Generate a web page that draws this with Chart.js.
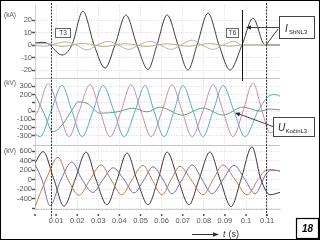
<!DOCTYPE html>
<html>
<head>
<meta charset="utf-8">
<script src="https://cdn.jsdelivr.net/npm/chart.js@4.4.1/dist/chart.umd.min.js"></script>
<style>
  html, body { margin: 0; padding: 0; background: #fff; }
  #box { position: relative; width: 320px; height: 240px; }
</style>
</head>
<body>
<div id="box"><canvas id="chart" width="320" height="240"></canvas></div>
<script>
// time axis (s)
const timeTicks = [0, 0.01, 0.02, 0.03, 0.04, 0.05, 0.06, 0.07, 0.08, 0.09, 0.1, 0.11];
const tMarkT3 = 0.0076;
const tMarkT6 = 0.0981;
const tMarkOpen = 0.1095;

// panel 1: currents (kA)
const iTicks = [-20, -10, 0, 10, 20];
const iShNL3Time = [0, 0.0033, 0.0062, 0.0128, 0.0175, 0.0227, 0.0280, 0.0332, 0.0379, 0.0431, 0.0483, 0.0536, 0.0578, 0.0626, 0.0678, 0.0725, 0.0768, 0.0820, 0.0872, 0.0924, 0.0981, 0.1033, 0.1090, 0.1161];
const iShNL3 = [1.5, 2.2, 1, -8, 0, 27, 0, -18.5, 0, 24, 0, -19.5, 0, 24, 0, -20, 0, 25.5, 0, -20, 0, 21.5, 0, 0];
const iGreyTime = [0, 0.0043, 0.0076, 0.0147, 0.0194, 0.0246, 0.0294, 0.0346, 0.0393, 0.0445, 0.0493, 0.0545, 0.0592, 0.0645, 0.0692, 0.0744, 0.0791, 0.0844, 0.0891, 0.0943, 0.0981, 0.1161];
const iGrey = [-0.5, -1, 0, 2.5, 0, -4, 0, 3, 0, -3.5, 0, 3, 0, -3.5, 0, 4, 0, -3.5, 0, 3, 0, 0];
const iOliveTime = [0, 0.0047, 0.0095, 0.0128, 0.0175, 0.0227, 0.0280, 0.0327, 0.0379, 0.0427, 0.0479, 0.0526, 0.0578, 0.0626, 0.0678, 0.0725, 0.0777, 0.0825, 0.0877, 0.0924, 0.0981, 0.1161];
const iOlive = [1, 1.2, 0, -1.2, 0, 1.2, 0, -1.2, 0, 1, 0, -1.2, 0, 1, 0, -1, 0, 1.2, 0, -1, 0, 0];

// panel 2: voltages (kV)
const u1Ticks = [-300, -200, -100, 0, 100, 200, 300];
const uPinkTime = [0, 0.0014, 0.0062, 0.0114, 0.0161, 0.0209, 0.0261, 0.0308, 0.0356, 0.0408, 0.0455, 0.0502, 0.0550, 0.0602, 0.0649, 0.0697, 0.0744, 0.0796, 0.0844, 0.0891, 0.0938, 0.0986, 0.1033, 0.1076, 0.1114, 0.1161];
const uPink = [-60, 0, 330, 0, -310, 0, 320, 0, -310, 0, 320, 0, -310, 0, 320, 0, -310, 0, 320, 0, -310, 0, 340, 0, -260, -200];
const uBlueTime = [0, 0.0024, 0.0076, 0.0128, 0.0175, 0.0223, 0.0275, 0.0322, 0.0374, 0.0422, 0.0474, 0.0521, 0.0564, 0.0611, 0.0659, 0.0701, 0.0749, 0.0796, 0.0844, 0.0891, 0.0943, 0.0995, 0.1057, 0.1114, 0.1137, 0.1161];
const uBlue = [-280, -310, 0, 310, 0, -310, 0, 310, 0, -310, 0, 310, 0, -310, 0, 310, 0, -310, 0, 310, 0, -310, 0, 190, 200, 180];
const uKocinTime = [0, 0.0043, 0.0085, 0.0118, 0.0175, 0.0204, 0.0246, 0.0308, 0.0389, 0.0464, 0.0531, 0.0592, 0.0697, 0.0796, 0.0891, 0.0986, 0.1066, 0.1114, 0.1161];
const uKocin = [200, -30, -250, -200, 10, 110, 95, -25, -10, 35, -10, 48, -48, 36, -48, 48, 0, 25, 15];

// panel 3: voltages (kV)
const u2Ticks = [-600, -400, -200, 0, 200, 400, 600];
const u3BlackTime = [0, 0.0038, 0.0090, 0.0137, 0.0190, 0.0242, 0.0289, 0.0341, 0.0389, 0.0436, 0.0483, 0.0536, 0.0583, 0.0626, 0.0678, 0.0730, 0.0777, 0.0829, 0.0877, 0.0929, 0.0976, 0.1028, 0.1071, 0.1114, 0.1161];
const u3Black = [350, 590, 0, -560, 0, 580, 0, -530, 0, 560, 0, -530, 0, 580, 0, -530, 0, 580, 0, -570, 0, 690, 0, -320, -270];
const u3OrangeTime = [0, 0.0052, 0.0109, 0.0156, 0.0209, 0.0261, 0.0313, 0.0360, 0.0412, 0.0460, 0.0512, 0.0555, 0.0602, 0.0645, 0.0687, 0.0739, 0.0796, 0.0844, 0.0891, 0.0948, 0.1005, 0.1057, 0.1095, 0.1123, 0.1161];
const u3Orange = [-570, 0, 470, 0, -330, 0, 310, 0, -320, 0, 300, 0, -320, 0, 280, 0, -320, 0, 310, 0, -320, 0, 200, 210, 180];
const u3VioletTime = [0, 0.0033, 0.0071, 0.0123, 0.0175, 0.0223, 0.0275, 0.0322, 0.0370, 0.0422, 0.0469, 0.0517, 0.0559, 0.0607, 0.0649, 0.0697, 0.0744, 0.0792, 0.0839, 0.0891, 0.0943, 0.0995, 0.1043, 0.1095, 0.1123, 0.1161];
const u3Violet = [320, 0, -550, 0, 370, 0, -270, 0, 250, 0, -280, 0, 270, 0, -300, 0, 310, 0, -300, 0, 300, 0, -300, 120, 200, 180];

const FONT = '"Liberation Sans", Arial, sans-serif';
Chart.defaults.font.family = FONT;

function pts(times, vals) {
    return times.map((t, i) => ({ x: t, y: vals[i] }));
}

function line(label, times, vals, color, axis) {
    return {
        label: label,
        data: pts(times, vals),
        yAxisID: axis,
        borderColor: color,
        borderWidth: 1,
        pointRadius: 0,
        fill: false,
        cubicInterpolationMode: 'monotone'
    };
}

function yAxis(ticks, min, max, weight, hidden) {
    return {
        type: 'linear',
        position: 'left',
        stack: 'panels',
        stackWeight: weight,
        min: min,
        max: max,
        afterFit: s => { s.width = 35; },
        afterBuildTicks: s => { s.ticks = ticks.map(v => ({ value: v })); },
        grid: { color: '#dcdcdc', tickLength: 3, tickColor: '#555', tickWidth: 1.5 },
        border: { display: true, color: '#cfcfcf', dash: [1, 1.5] },
        ticks: {
            autoSkip: false,
            padding: 0,
            color: '#555',
            font: { size: 7.5 },
            callback: v => (v === hidden ? '' : String(v))
        }
    };
}

function arrowHead(ctx, x, y, ang, len, w) {
    const c = Math.cos(ang), s = Math.sin(ang);
    ctx.beginPath();
    ctx.moveTo(x, y);
    ctx.lineTo(x - len * c + w * s, y - len * s - w * c);
    ctx.lineTo(x - len * c - w * s, y - len * s + w * c);
    ctx.closePath();
    ctx.fill();
}

// labels, markers and frames drawn on top of the chart
const overlay = {
    id: 'overlay',
    afterDraw(chart) {
        const { ctx, chartArea: ca, scales } = chart;
        const xs = scales.x, yI = scales.yI, yU1 = scales.yU1, yU2 = scales.yU2;
        ctx.save();

        // separators between panels
        ctx.strokeStyle = '#c4c4c4';
        ctx.lineWidth = 1;
        [yU1.top, yU2.top].forEach(y => {
            const yy = Math.round(y) + 0.5;
            ctx.beginPath(); ctx.moveTo(ca.left - 2, yy); ctx.lineTo(ca.right, yy); ctx.stroke();
        });

        // tick dots on the time axis
        ctx.fillStyle = '#555';
        timeTicks.forEach(v => {
            const px = xs.getPixelForValue(v);
            ctx.fillRect(px - 0.75, ca.bottom + 5, 1.5, 2);
        });

        // unit labels
        ctx.fillStyle = '#555';
        ctx.font = '6.5px ' + FONT;
        ctx.textAlign = 'left';
        ctx.textBaseline = 'middle';
        ctx.fillText('(kA)', 4, yI.getPixelForValue(20) - 5);
        ctx.fillText('(kV)', 4, yU1.getPixelForValue(300) - 3);
        ctx.fillText('(kV)', 4, yU2.getPixelForValue(600));

        // dashed markers
        ctx.strokeStyle = '#333';
        ctx.setLineDash([2, 1.2]);
        [tMarkT3, tMarkOpen].forEach(t => {
            const px = Math.round(xs.getPixelForValue(t)) + 0.5;
            ctx.beginPath(); ctx.moveTo(px, ca.top - 2); ctx.lineTo(px, ca.bottom + 9); ctx.stroke();
        });
        ctx.setLineDash([]);

        // solid marker T6
        const x6 = Math.round(xs.getPixelForValue(tMarkT6)) + 0.5;
        ctx.strokeStyle = '#111';
        ctx.beginPath(); ctx.moveTo(x6, yI.getPixelForValue(28)); ctx.lineTo(x6, yU1.top + 3); ctx.stroke();

        // T3 / T6 boxes
        const x3 = Math.round(xs.getPixelForValue(tMarkT3));
        const boxTop = Math.round(yI.getPixelForValue(13.5)) + 0.5;
        ctx.fillStyle = '#fff';
        ctx.strokeStyle = '#666';
        ctx.lineWidth = 1;
        ctx.fillRect(x3 + 4.5, boxTop, 15, 9);
        ctx.strokeRect(x3 + 4.5, boxTop, 15, 9);
        ctx.fillRect(x6 - 16, boxTop, 12, 9);
        ctx.strokeRect(x6 - 16, boxTop, 12, 9);
        ctx.fillStyle = '#333';
        ctx.font = '6.5px ' + FONT;
        ctx.textAlign = 'center';
        ctx.fillText('T3', x3 + 12, boxTop + 4.8);
        ctx.fillText('T6', x6 - 10, boxTop + 4.8);

        // I ShNL3 callout
        ctx.strokeStyle = '#444';
        ctx.fillStyle = '#fff';
        ctx.fillRect(279.5, 16.5, 35, 22);
        ctx.strokeRect(279.5, 16.5, 35, 22);
        ctx.beginPath(); ctx.moveTo(279, 27.5); ctx.lineTo(250, 27.5); ctx.stroke();
        ctx.fillStyle = '#222';
        arrowHead(ctx, 246, 27.5, Math.PI, 5, 2);
        const xOpen = xs.getPixelForValue(tMarkOpen);
        ctx.beginPath(); ctx.moveTo(278, 29); ctx.lineTo(xOpen, yI.getPixelForValue(0)); ctx.stroke();
        ctx.textAlign = 'left';
        ctx.textBaseline = 'alphabetic';
        ctx.font = 'italic 10px ' + FONT;
        ctx.fillText('I', 285, 32);
        ctx.font = '6px ' + FONT;
        ctx.fillText('ShNL3', 289, 33.5);

        // U KočinL3 callout
        ctx.fillStyle = '#fff';
        ctx.fillRect(273.5, 117.5, 41, 19);
        ctx.strokeRect(273.5, 117.5, 41, 19);
        ctx.beginPath(); ctx.moveTo(273, 126.5); ctx.lineTo(239, 114); ctx.stroke();
        ctx.fillStyle = '#222';
        arrowHead(ctx, 235, 112.8, Math.atan2(112.8 - 126.5, 235 - 273), 5, 2);
        ctx.font = 'italic 10px ' + FONT;
        ctx.fillText('U', 278, 131);
        ctx.font = '6px ' + FONT;
        ctx.fillText('KočinL3', 285.5, 133);

        // time axis caption
        ctx.strokeStyle = '#333';
        ctx.beginPath(); ctx.moveTo(192, 234.5); ctx.lineTo(214, 234.5); ctx.stroke();
        ctx.fillStyle = '#333';
        arrowHead(ctx, 219, 234.5, 0, 6, 2.3);
        ctx.font = 'italic 9px ' + FONT;
        ctx.textBaseline = 'middle';
        ctx.fillText('t', 223, 234.5);
        ctx.font = '9px ' + FONT;
        ctx.fillText(' (s)', 226, 234.5);

        // figure number
        ctx.strokeStyle = '#000';
        ctx.lineWidth = 1.2;
        ctx.strokeRect(296.5, 218.5, 22, 20);
        ctx.fillStyle = '#000';
        ctx.font = 'bold italic 10px ' + FONT;
        ctx.textAlign = 'center';
        ctx.fillText('18', 307.5, 229);

        // outer frame
        ctx.lineWidth = 1;
        ctx.strokeRect(0.5, 0.5, 319, 239);
        ctx.restore();
    }
};

new Chart(document.getElementById('chart'), {
    type: 'line',
    data: {
        datasets: [
            line('grey', iGreyTime, iGrey, '#b3b3b3', 'yI'),
            line('olive', iOliveTime, iOlive, '#bdb07a', 'yI'),
            line('IShNL3', iShNL3Time, iShNL3, '#3a3a3a', 'yI'),
            line('pink', uPinkTime, uPink, '#c98aa4', 'yU1'),
            line('blue', uBlueTime, uBlue, '#55a6d0', 'yU1'),
            line('UKocinL3', uKocinTime, uKocin, '#62a07a', 'yU1'),
            line('orange', u3OrangeTime, u3Orange, '#c7774f', 'yU2'),
            line('violet', u3VioletTime, u3Violet, '#6e6eb0', 'yU2'),
            line('black', u3BlackTime, u3Black, '#333333', 'yU2')
        ]
    },
    options: {
        responsive: false,
        devicePixelRatio: 1,
        animation: false,
        layout: { padding: { top: 5, right: 40, bottom: 0, left: 0 } },
        plugins: { legend: { display: false }, tooltip: { enabled: false } },
        scales: {
            x: {
                type: 'linear',
                position: 'bottom',
                min: 0,
                max: 0.1161,
                afterFit: s => { s.height = 31; },
                afterBuildTicks: s => { s.ticks = timeTicks.map(v => ({ value: v })); },
                grid: { color: '#dcdcdc', tickLength: 6, tickColor: 'rgba(0,0,0,0)' },
                border: { display: true, color: '#cfcfcf', dash: [1, 1.5] },
                ticks: {
                    autoSkip: false,
                    maxRotation: 0,
                    padding: 1,
                    color: '#555',
                    font: { size: 7.5 },
                    callback: v => (v === 0 ? '' : String(Math.round(v * 100) / 100))
                }
            },
            yU2: Object.assign(yAxis(u2Ticks, -620, 730, 64, -600), { weight: 1 }),
            yU1: Object.assign(yAxis(u1Ticks, -410, 400, 67, 100), { weight: 2 }),
            yI: Object.assign(yAxis(iTicks, -26.4, 32, 73, null), { weight: 3 })
        }
    },
    plugins: [overlay]
});
</script>
</body>
</html>
